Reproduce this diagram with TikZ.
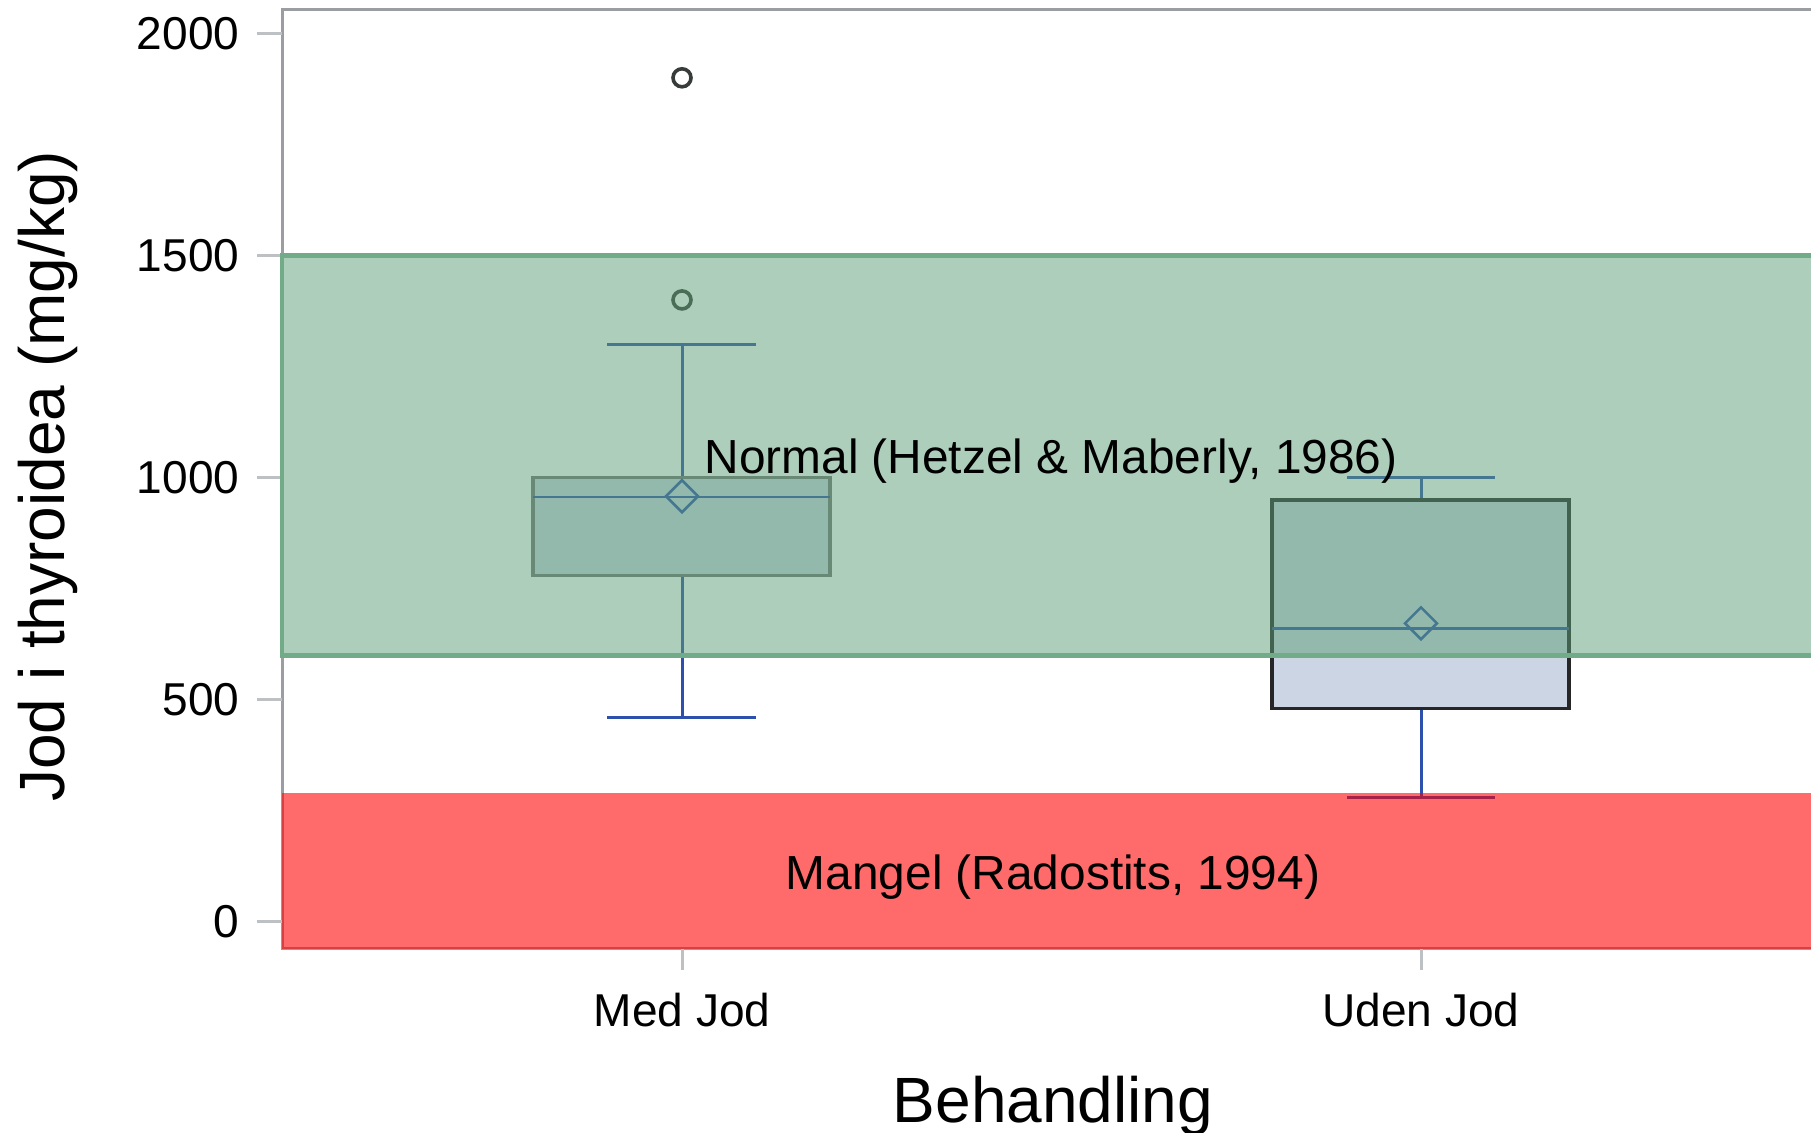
\documentclass[tikz,border=0pt]{standalone}
\usepackage{fontspec}
\setmainfont{Liberation Sans}
\usetikzlibrary{shapes.geometric}

\definecolor{axisgray}{RGB}{154,158,162}
\definecolor{tickgray}{RGB}{190,193,196}
\definecolor{boxfill}{RGB}{203,213,227}
\definecolor{whiskblue}{RGB}{45,80,172}
\definecolor{normalgreen}{RGB}{93,159,119}
\definecolor{normaledge}{RGB}{114,171,136}
\definecolor{outliergray}{RGB}{55,60,58}

\begin{document}
\begin{tikzpicture}[x=0.01cm, y=0.01cm,
    ticklabel/.style={font=\fontsize{13.1}{15.7}\selectfont, inner sep=0pt},
    bandlabel/.style={font=\fontsize{13.6}{16.3}\selectfont, inner sep=0pt},
    axistitle/.style={font=\fontsize{18.2}{21.8}\selectfont, inner sep=0pt},
    whisker/.style={draw=whiskblue, line width=0.03cm},
    boxstyle/.style={fill=boxfill, draw=black!85, line width=0.034cm},
    meanmark/.style={diamond, draw=whiskblue, line width=0.026cm, minimum width=0.33cm, minimum height=0.33cm, inner sep=0pt},
    outlier/.style={circle, draw=outliergray, line width=0.036cm, minimum size=0.18cm, inner sep=0pt}]

    \useasboundingbox[fill=white] (0,0) rectangle (1811,1133);

    % data scope: x in pixels, y in mg/kg
    \begin{scope}[yshift=2.11cm, y=0.004445cm]

    \def\ybot{-61}
    \def\ytop{2054}
    \def\xl{282}
    \def\xr{1840}

    % --- Frame ---
    \draw[axisgray, line width=0.03cm] (\xl,\ybot) rectangle (\xr,\ytop);

    % --- Y ticks ---
    \foreach \v in {0,500,...,2000} {
        \draw[tickgray, line width=0.03cm] (257,\v) -- (\xl,\v);
        \node[ticklabel, anchor=east] (t\v) at (240,\v) {\v};
    }

    % --- X ticks ---
    \draw[tickgray, line width=0.03cm] (682,\ybot) -- (682,-108);
    \draw[tickgray, line width=0.03cm] (1421,\ybot) -- (1421,-108);

    % --- Med Jod ---
    \draw[whisker] (682,1000) -- (682,1300);
    \draw[whisker] (682,780) -- (682,460);
    \draw[whisker, line width=0.036cm] (607,1300) -- (756,1300);
    \draw[whisker, line width=0.036cm] (607,460) -- (756,460);
    \draw[boxstyle, draw=black!55] (533,780) rectangle (830,1000);
    \draw[whisker, line width=0.024cm] (533,956) -- (830,956);
    \node[meanmark] (mean1) at (682,958) {};
    \node[outlier] (out1) at (682,1400) {};
    \node[outlier] (out2) at (682,1900) {};

    % --- Uden Jod ---
    \draw[whisker] (1421,950) -- (1421,1000);
    \draw[whisker] (1421,480) -- (1421,280);
    \draw[whisker, line width=0.036cm] (1347,1000) -- (1495,1000);
    \draw[whisker, line width=0.036cm] (1347,280) -- (1495,280);
    \draw[boxstyle] (1272,480) rectangle (1569,950);
    \draw[whisker, line width=0.024cm] (1272,660) -- (1569,660);
    \node[meanmark] (mean2) at (1421,672) {};

    % --- Reference bands ---
    \fill[normalgreen, fill opacity=0.5] (\xl,600) rectangle (\xr,1500);
    \draw[normaledge, line width=0.045cm] (\xl,600) rectangle (\xr,1500);
    \fill[red, fill opacity=0.58] (\xl,\ybot) rectangle (\xr,290);

    % --- Labels ---
    \node[bandlabel, anchor=base] (normal) at (1051,1010) {Normal (Hetzel \& Maberly, 1986)};
    \node[bandlabel, anchor=base] (mangel) at (1053,72) {Mangel (Radostits, 1994)};
    \node[ticklabel, anchor=base] (medjod) at (682,-236) {Med Jod};
    \node[ticklabel, anchor=base] (udenjod) at (1421,-236) {Uden Jod};
    \node[axistitle, anchor=base] (xtitle) at (1053,-452) {Behandling};
    \node[axistitle, anchor=base, rotate=90] (ytitle) at (65,1003) {Jod i thyroidea (mg/kg)};

    \end{scope}

\end{tikzpicture}
\end{document}
